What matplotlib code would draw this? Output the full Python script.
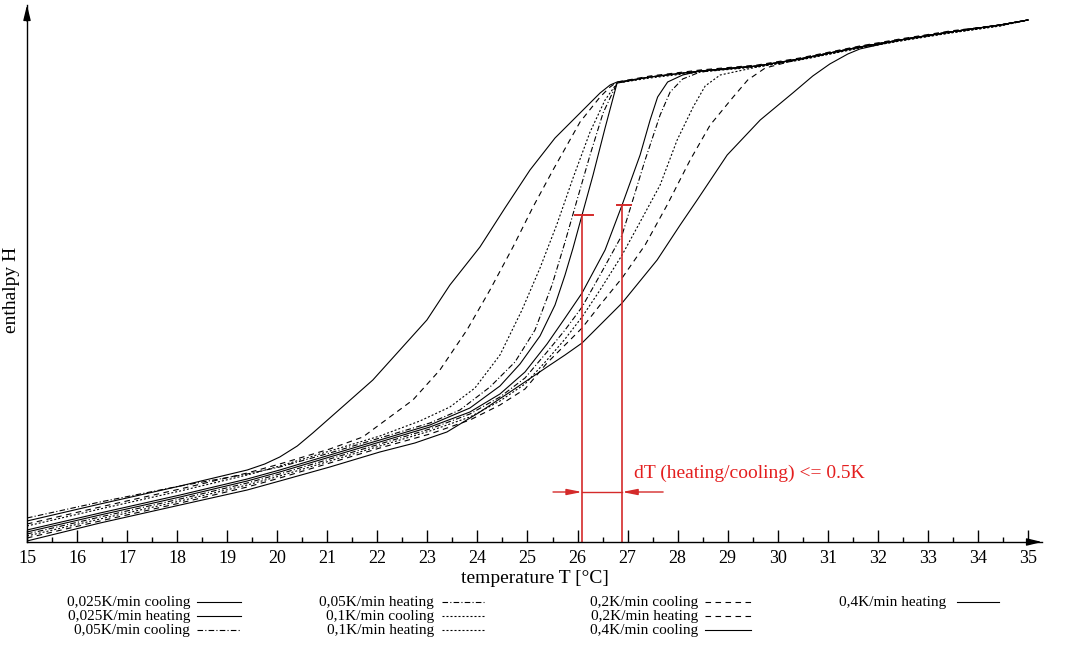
import matplotlib
matplotlib.use("Agg")
import matplotlib.pyplot as plt
from matplotlib.ticker import MultipleLocator

plt.rcParams['font.family'] = ['Liberation Serif', 'DejaVu Serif']

# ---------------- data (temperature T in degC, enthalpy H in arbitrary units) -------------
T_c040 = [15.00, 16.46, 18.06, 19.40, 19.75, 20.05, 20.40, 20.71, 21.05, 21.39, 21.91, 22.45, 22.99,
          23.45, 24.05, 24.55, 25.05, 25.55, 26.05, 26.45, 26.65, 26.79, 27.45, 28.45, 29.59, 30.44,
          31.64, 32.44, 33.44, 34.44, 35.00]
H_c040 = [0.21, 0.38, 0.56, 0.72, 0.78, 0.85, 0.96, 1.09, 1.24, 1.39, 1.62, 1.92, 2.22,
          2.57, 2.95, 3.34, 3.72, 4.04, 4.29, 4.49, 4.57, 4.60, 4.65, 4.71, 4.76, 4.83,
          4.95, 5.02, 5.10, 5.17, 5.22]

T_c020 = [15.00, 16.46, 18.06, 19.40, 20.05, 21.05, 21.71, 22.25, 22.71, 23.25, 23.79, 24.25, 24.71,
          25.11, 25.51, 26.05, 26.45, 26.65, 26.79, 27.45, 28.45, 29.59, 30.44, 31.64, 32.44, 33.44,
          34.44, 35.00]
H_c020 = [0.18, 0.35, 0.53, 0.69, 0.78, 0.93, 1.05, 1.25, 1.42, 1.72, 2.12, 2.52, 2.95,
          3.35, 3.72, 4.20, 4.45, 4.55, 4.60, 4.66, 4.72, 4.77, 4.84, 4.96, 5.03, 5.11,
          5.17, 5.22]

T_c010 = [15.00, 16.46, 18.06, 19.40, 20.05, 21.05, 22.05, 22.85, 23.45, 23.95, 24.45, 24.89, 25.25,
          25.59, 25.91, 26.25, 26.55, 26.79, 27.45, 28.45, 29.59, 30.44, 31.64, 32.44, 33.44, 34.44, 35.00]
H_c010 = [0.16, 0.33, 0.51, 0.67, 0.76, 0.91, 1.06, 1.21, 1.35, 1.54, 1.87, 2.32, 2.74,
          3.18, 3.64, 4.10, 4.42, 4.59, 4.64, 4.70, 4.75, 4.82, 4.94, 5.01, 5.09, 5.16, 5.22]

T_c005 = [15.00, 16.46, 18.06, 19.40, 20.05, 21.05, 22.05, 23.05, 23.65, 24.25, 24.75, 25.15, 25.49,
          25.75, 25.99, 26.25, 26.51, 26.79, 27.45, 28.45, 29.59, 30.44, 31.64, 32.44, 33.44, 34.44, 35.00]
H_c005 = [0.24, 0.40, 0.56, 0.68, 0.75, 0.89, 1.04, 1.19, 1.32, 1.55, 1.80, 2.12, 2.57,
          3.00, 3.42, 3.87, 4.29, 4.59, 4.65, 4.71, 4.76, 4.83, 4.95, 5.02, 5.10, 5.17, 5.22]

T_c0025 = [15.00, 16.46, 18.06, 19.40, 20.05, 21.05, 22.05, 23.05, 23.85, 24.45, 24.85, 25.25, 25.55,
           25.75, 25.91, 26.09, 26.31, 26.55, 26.71, 26.79, 27.45, 28.45, 29.59, 30.44, 31.64, 32.44,
           33.44, 34.44, 35.00]
H_c0025 = [0.12, 0.29, 0.47, 0.63, 0.72, 0.87, 1.02, 1.17, 1.34, 1.56, 1.78, 2.06, 2.37,
           2.67, 2.94, 3.27, 3.67, 4.14, 4.44, 4.59, 4.65, 4.71, 4.76, 4.83, 4.95, 5.02,
           5.10, 5.17, 5.22]

T_h0025 = [15.00, 16.46, 18.06, 19.40, 20.05, 21.05, 22.05, 23.05, 23.85, 24.45, 24.95, 25.39, 25.75,
           26.09, 26.55, 26.89, 27.25, 27.45, 27.60, 27.80, 28.10, 28.45, 29.59, 30.44, 31.64, 32.44,
           33.44, 34.44, 35.00]
H_h0025 = [0.10, 0.27, 0.45, 0.61, 0.70, 0.85, 1.00, 1.15, 1.30, 1.48, 1.70, 1.98, 2.24,
           2.49, 2.92, 3.37, 3.87, 4.22, 4.45, 4.60, 4.67, 4.71, 4.76, 4.83, 4.95, 5.02,
           5.10, 5.17, 5.22]

T_h005 = [15.00, 16.46, 18.06, 19.40, 20.05, 21.05, 22.05, 23.05, 23.85, 24.45, 24.95, 25.39, 25.75,
          26.09, 26.45, 26.89, 27.35, 27.65, 27.85, 28.10, 28.45, 29.59, 30.44, 31.64, 32.44, 33.44,
          34.44, 35.00]
H_h005 = [0.08, 0.25, 0.43, 0.59, 0.68, 0.83, 0.98, 1.13, 1.28, 1.45, 1.64, 1.90, 2.12,
          2.35, 2.67, 3.07, 3.82, 4.27, 4.50, 4.63, 4.70, 4.76, 4.83, 4.95, 5.02, 5.10,
          5.17, 5.22]

T_h010 = [15.00, 16.46, 18.06, 19.40, 20.05, 21.05, 22.05, 23.05, 23.85, 24.45, 24.95, 25.39, 25.75,
          26.09, 26.45, 26.89, 27.25, 27.65, 27.99, 28.31, 28.55, 28.85, 29.59, 30.44, 31.64, 32.44,
          33.44, 34.44, 35.00]
H_h010 = [0.06, 0.23, 0.41, 0.57, 0.66, 0.81, 0.96, 1.11, 1.25, 1.41, 1.58, 1.82, 2.03,
          2.25, 2.52, 2.87, 3.20, 3.57, 4.02, 4.35, 4.56, 4.67, 4.75, 4.82, 4.94, 5.01,
          5.09, 5.16, 5.22]

T_h020 = [15.00, 16.46, 18.06, 19.40, 20.05, 21.05, 22.05, 23.05, 23.85, 24.45, 24.95, 25.39, 25.75,
          26.09, 26.45, 26.89, 27.35, 27.79, 28.25, 28.65, 29.11, 29.40, 29.75, 30.44, 31.64, 32.44,
          33.44, 34.44, 35.00]
H_h020 = [0.04, 0.21, 0.39, 0.55, 0.64, 0.79, 0.94, 1.08, 1.22, 1.37, 1.53, 1.79, 1.97,
          2.14, 2.37, 2.64, 2.97, 3.37, 3.82, 4.17, 4.45, 4.62, 4.74, 4.83, 4.95, 5.02,
          5.10, 5.17, 5.22]

T_h040 = [15.00, 16.46, 18.06, 19.40, 20.05, 21.05, 22.05, 22.75, 23.39, 24.05, 24.71, 25.39, 25.75,
          26.09, 26.89, 27.59, 28.05, 28.39, 28.99, 29.65, 30.30, 30.70, 31.04, 31.40, 31.64, 32.44,
          33.44, 34.44, 35.00]
H_h040 = [0.01, 0.19, 0.37, 0.52, 0.61, 0.75, 0.90, 0.99, 1.10, 1.30, 1.52, 1.75, 1.87,
          1.99, 2.39, 2.82, 3.17, 3.42, 3.87, 4.22, 4.49, 4.66, 4.78, 4.88, 4.93, 5.02,
          5.10, 5.17, 5.22]

labels = ["0,025K/min cooling", "0,025K/min heating", "0,05K/min cooling",
          "0,05K/min heating", "0,1K/min cooling", "0,1K/min heating",
          "0,2K/min cooling", "0,2K/min heating", "0,4K/min cooling",
          "0,4K/min heating"]

# hysteresis annotation values
dT_T = [26.09, 26.89]      # cooling / heating temperature at equal enthalpy
dT_H = [3.27, 3.37]        # enthalpy level of the markers
dT_arrow_H = 0.50
dT_text = "dT (heating/cooling) <= 0.5K"
x_ticks = list(range(15, 36))

# ---------------- styles ----------------
SOLID = None
styles = {
    "0,025K/min cooling": SOLID, "0,025K/min heating": SOLID,
    "0,05K/min cooling": (5, 2, 1, 2), "0,05K/min heating": (5, 2, 1, 2),
    "0,1K/min cooling": (1.8, 1.8), "0,1K/min heating": (1.8, 1.8),
    "0,2K/min cooling": (5, 4), "0,2K/min heating": (5, 4),
    "0,4K/min cooling": SOLID, "0,4K/min heating": SOLID,
}
series = {
    "0,025K/min cooling": (T_c0025, H_c0025), "0,025K/min heating": (T_h0025, H_h0025),
    "0,05K/min cooling": (T_c005, H_c005), "0,05K/min heating": (T_h005, H_h005),
    "0,1K/min cooling": (T_c010, H_c010), "0,1K/min heating": (T_h010, H_h010),
    "0,2K/min cooling": (T_c020, H_c020), "0,2K/min heating": (T_h020, H_h020),
    "0,4K/min cooling": (T_c040, H_c040), "0,4K/min heating": (T_h040, H_h040),
}

W, Hpx = 1069, 645
fig = plt.figure(figsize=(W / 100, Hpx / 100), dpi=100)
ax = fig.add_axes([27 / W, 103 / Hpx, 1015 / W, 537 / Hpx])
ax.set_xlim(15, 35.28)
ax.set_ylim(0, 5.37)

for lab in labels:
    T, H = series[lab]
    d = styles[lab]
    line, = ax.plot(T, H, color='black', lw=0.8)
    if d is not None:
        line.set_dashes(d)

for s in ['top', 'right']:
    ax.spines[s].set_visible(False)
for s in ['left', 'bottom']:
    ax.spines[s].set_linewidth(1.0)

ax.set_yticks([])
ax.set_xticks(x_ticks)
ax.xaxis.set_minor_locator(MultipleLocator(0.5))
ax.tick_params(axis='x', which='major', direction='in', length=8.5, width=1.0,
               pad=6, labelsize=13)
ax.tick_params(axis='x', which='minor', direction='in', length=3.5, width=1.0)
ax.set_xlabel("temperature T [°C]", fontsize=14, labelpad=2)

# axis arrows
ax.annotate('', xy=(1.0, 0), xytext=(0.985, 0), xycoords='axes fraction',
            arrowprops=dict(arrowstyle='-|>,head_length=0.9,head_width=0.22', color='black',
                            lw=1.0, shrinkA=0, shrinkB=0))
ax.annotate('', xy=(0, 1.0), xytext=(0, 0.97), xycoords='axes fraction',
            arrowprops=dict(arrowstyle='-|>,head_length=0.9,head_width=0.22', color='black',
                            lw=1.0, shrinkA=0, shrinkB=0))

# red hysteresis annotation
red_line = '#d42a2a'
red_text = '#e41f1f'
ax.plot([dT_T[0], dT_T[0]], [0, dT_H[0]], color=red_line, lw=1.2)
ax.plot([dT_T[0] - 0.15, dT_T[0] + 0.21], [dT_H[0], dT_H[0]], color=red_line, lw=1.4)
ax.plot([dT_T[1], dT_T[1]], [0, dT_H[1]], color=red_line, lw=1.2)
ax.plot([dT_T[1] - 0.1, dT_T[1] + 0.18], [dT_H[1], dT_H[1]], color=red_line, lw=1.4)
ax.plot([dT_T[0], dT_T[1]], [dT_arrow_H, dT_arrow_H], color=red_line, lw=1.0)
ax.annotate('', xy=(dT_T[0], dT_arrow_H), xytext=(dT_T[0] - 0.58, dT_arrow_H),
            arrowprops=dict(arrowstyle='-|>,head_length=0.9,head_width=0.18', color=red_line,
                            lw=1.0, shrinkA=0, shrinkB=0))
ax.annotate('', xy=(dT_T[1], dT_arrow_H), xytext=(dT_T[1] + 0.82, dT_arrow_H),
            arrowprops=dict(arrowstyle='-|>,head_length=0.9,head_width=0.18', color=red_line,
                            lw=1.0, shrinkA=0, shrinkB=0))

# overlay in pixel coordinates for labels & legend
lax = fig.add_axes([0, 0, 1, 1])
lax.set_xlim(0, W)
lax.set_ylim(Hpx, 0)
lax.axis('off')

lax.text(634, 478, dT_text, color=red_text, fontsize=14, ha='left', va='baseline')
lax.text(12, 290, "enthalpy H", rotation=90, fontsize=14, ha='center', va='center')

col_text_right = [190, 434, 698, 946]
col_line = [(197, 241), (442, 484), (705, 751), (957, 999)]
row_y = [602, 616, 630]
for i, lab in enumerate(labels):
    col, row = divmod(i, 3)
    y = row_y[row]
    lax.text(col_text_right[col], y + 4, lab, fontsize=11, ha='right', va='baseline')
    x0, x1 = col_line[col]
    ln, = lax.plot([x0, x1], [y, y], color='black', lw=0.8)
    if styles[lab] is not None:
        ln.set_dashes(styles[lab])

fig.savefig("out.png", dpi=100)
